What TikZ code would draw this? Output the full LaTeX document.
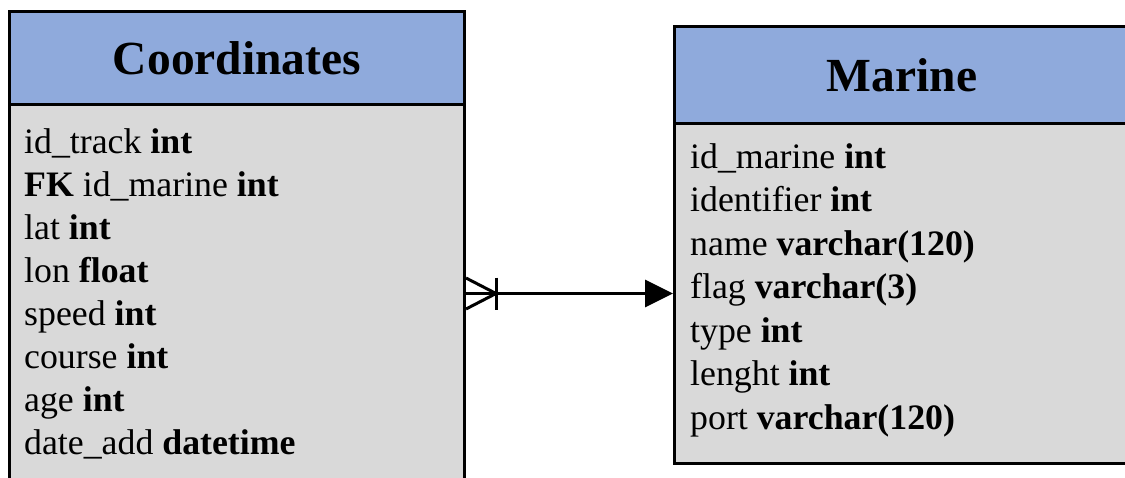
\documentclass[tikz,border=0pt]{standalone}
\usepackage{fontspec}
\setmainfont{Liberation Serif}
\usetikzlibrary{arrows.meta}
\definecolor{hdrblue}{HTML}{8FAADC}
\definecolor{bodygray}{HTML}{D9D9D9}
\tikzset{
  hdrbox/.style={draw=black, line width=3pt, fill=hdrblue, minimum width=455pt, inner sep=0pt, anchor=north west,
    font=\fontsize{47.5}{50}\selectfont\bfseries},
  bodybox/.style={draw=black, line width=3pt, fill=bodygray, minimum width=455pt, inner sep=0pt, anchor=north west},
  field/.style={anchor=base west, inner sep=0pt, font=\fontsize{35.8}{43}\selectfont},
  rel/.style={line width=3pt, draw=black},
}
\begin{document}
\begin{tikzpicture}[x=1pt,y=-1pt]
\useasboundingbox (0,0) rectangle (1125,477);
\clip (0,0) rectangle (1125,477);
% Coordinates table
\node[bodybox, minimum height=395pt] (coordB) at (8,103) {};
\node[hdrbox, minimum height=93pt] (coordH) at (8,10) {Coordinates};
\node[field] (c1) at (24,153) {id\_track \textbf{int}};
\node[field] (c2) at (24,196) {\textbf{FK} id\_marine \textbf{int}};
\node[field] (c3) at (24,239) {lat \textbf{int}};
\node[field] (c4) at (24,282) {lon \textbf{float}};
\node[field] (c5) at (24,325) {speed \textbf{int}};
\node[field] (c6) at (24,368) {course \textbf{int}};
\node[field] (c7) at (24,411) {age \textbf{int}};
\node[field] (c8) at (24,454) {date\_add \textbf{datetime}};
% Marine table
\node[bodybox, minimum height=340pt] (marB) at (673,122) {};
\node[hdrbox, minimum height=97pt] (marH) at (673,25) {Marine};
\node[field] (m1) at (690,168) {id\_marine \textbf{int}};
\node[field] (m2) at (690,211.5) {identifier \textbf{int}};
\node[field] (m3) at (690,255) {name \textbf{varchar(120)}};
\node[field] (m4) at (690,298.5) {flag \textbf{varchar(3)}};
\node[field] (m5) at (690,342) {type \textbf{int}};
\node[field] (m6) at (690,385.5) {lenght \textbf{int}};
\node[field] (m7) at (690,429) {port \textbf{varchar(120)}};
% relation
\coordinate (s) at (coordB.east |- marB.west);
\draw[rel, -{Triangle[length=28pt,width=27pt]}] (s) -- (marB.west);
\draw[rel] ([yshift=15.5pt]s) -- ([xshift=30pt]s) -- ([yshift=-15.5pt]s);
\draw[rel] ([xshift=30pt,yshift=16pt]s) -- ([xshift=30pt,yshift=-16pt]s);
\end{tikzpicture}
\end{document}
